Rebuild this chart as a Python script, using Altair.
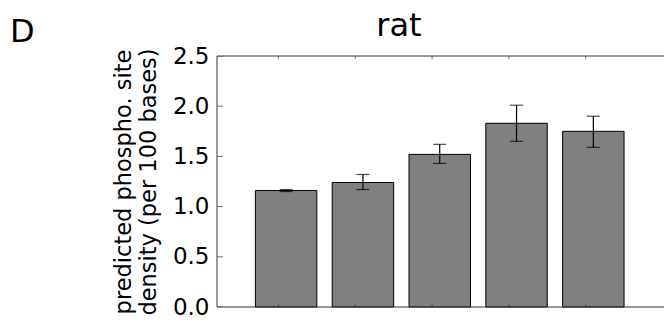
import altair as alt
import pandas as pd

# ---- data ----
groups = ["1", "2", "3", "4", "5"]
density_mean = [1.16, 1.24, 1.52, 1.83, 1.75]
density_low = [1.15, 1.17, 1.43, 1.65, 1.59]
density_high = [1.17, 1.32, 1.62, 2.01, 1.90]
y_ticks = [0.0, 0.5, 1.0, 1.5, 2.0, 2.5]
title_text = "rat"
panel_text = "D"

FONT = "DejaVu Sans"
X_MIN, X_MAX = 0.5, 6.32
Y_MIN, Y_MAX = 0.0, 2.5
SPINE = "#333"

df = pd.DataFrame({
    "group": groups,
    "mean": density_mean,
    "low": density_low,
    "high": density_high,
})
df["left"] = range(1, len(df) + 1)
df["right"] = df["left"] + 0.8
df["center"] = df["left"] + 0.4
df["tick"] = df["left"] + 0.3

xs = alt.Scale(domain=[X_MIN, X_MAX], nice=False, zero=False)
ys = alt.Scale(domain=[Y_MIN, Y_MAX], nice=False, zero=False)

base = alt.Chart(df)

bars = base.mark_rect(fill="#808080", stroke="black", strokeWidth=1).encode(
    x=alt.X("left:Q", scale=xs, axis=None),
    x2="right:Q",
    y=alt.Y(
        "mean:Q",
        scale=ys,
        axis=alt.Axis(
            values=y_ticks,
            format=".1f",
            ticks=False,
            domain=False,
            grid=False,
            labelFontSize=23,
            labelFont=FONT,
            labelColor="black",
            labelPadding=8,
            title=["predicted phospho. site", "density (per 100 bases)"],
            titleFont=FONT,
            titleFontSize=22.5,
            titleFontWeight="normal",
            titleColor="black",
            titlePadding=12,
            titleLineHeight=25,
        ),
    ),
    y2=alt.datum(0),
)

err = base.mark_rule(color="black", strokeWidth=1.2).encode(
    x=alt.X("center:Q", scale=xs),
    y=alt.Y("low:Q", scale=ys),
    y2="high:Q",
)
cap_lo = base.mark_tick(orient="horizontal", color="black", size=13, thickness=1.2).encode(
    x=alt.X("center:Q", scale=xs),
    y=alt.Y("low:Q", scale=ys),
)
cap_hi = base.mark_tick(orient="horizontal", color="black", size=13, thickness=1.2).encode(
    x=alt.X("center:Q", scale=xs),
    y=alt.Y("high:Q", scale=ys),
)

# inward x ticks at top and bottom
xt_top = base.mark_tick(orient="vertical", color=SPINE, size=6, thickness=1, clip=True).encode(
    x=alt.X("tick:Q", scale=xs),
    y=alt.datum(Y_MAX, scale=ys),
)
xt_bot = base.mark_tick(orient="vertical", color=SPINE, size=6, thickness=1, clip=True).encode(
    x=alt.X("tick:Q", scale=xs),
    y=alt.datum(Y_MIN, scale=ys),
)

# inward y ticks on the left spine
ytick_df = pd.DataFrame({"v": y_ticks})
yt_left = alt.Chart(ytick_df).mark_tick(orient="horizontal", color=SPINE, size=12, thickness=1, clip=True).encode(
    x=alt.datum(X_MIN, scale=xs),
    y=alt.Y("v:Q", scale=ys),
)

# spines (left, top, bottom; the right one lies beyond the visible window)
one = alt.Chart(pd.DataFrame({"k": [0]}))
spine_left = one.mark_rule(color=SPINE, strokeWidth=1).encode(
    x=alt.datum(X_MIN, scale=xs), y=alt.datum(Y_MIN, scale=ys), y2=alt.datum(Y_MAX)
)
spine_top = one.mark_rule(color=SPINE, strokeWidth=1).encode(
    y=alt.datum(Y_MAX, scale=ys), x=alt.datum(X_MIN, scale=xs), x2=alt.datum(X_MAX)
)
spine_bot = one.mark_rule(color=SPINE, strokeWidth=1).encode(
    y=alt.datum(Y_MIN, scale=ys), x=alt.datum(X_MIN, scale=xs), x2=alt.datum(X_MAX)
)

panel_label = alt.Chart(pd.DataFrame({"t": [panel_text]})).mark_text(
    font=FONT, fontSize=32, align="left", baseline="alphabetic", color="black"
).encode(
    x=alt.value(-207),
    y=alt.value(-14),
    text="t:N",
)

title_label = alt.Chart(pd.DataFrame({"t": [title_text]})).mark_text(
    font=FONT, fontSize=32, align="center", baseline="alphabetic", color="black"
).encode(
    x=alt.value(182),
    y=alt.value(-20),
    text="t:N",
)

chart = alt.layer(
    bars, err, cap_lo, cap_hi, xt_top, xt_bot, yt_left,
    spine_left, spine_top, spine_bot, panel_label, title_label
).properties(
    width=447,
    height=251,
    autosize="none",
    padding={"left": 209, "top": 48, "right": 0, "bottom": 15},
).configure_view(
    stroke=None
)

chart.save("out.html", embed_options={"renderer": "svg", "actions": False})
